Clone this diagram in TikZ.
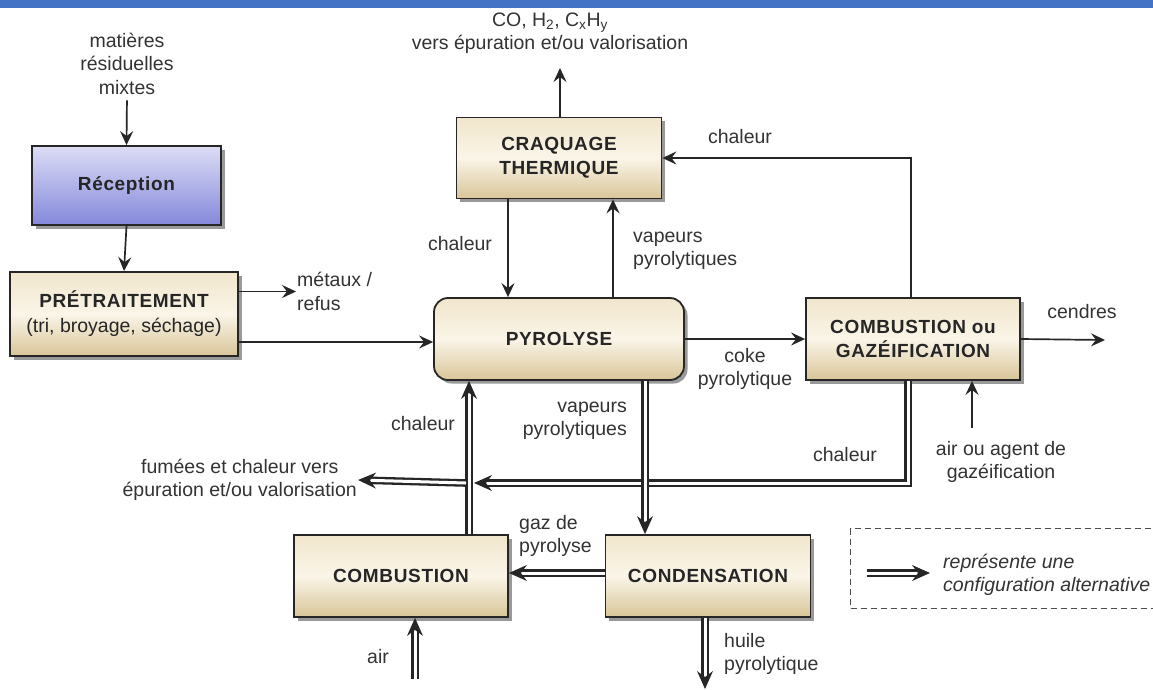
\documentclass[tikz,border=0pt]{standalone}
\usepackage{fontspec}
\setmainfont{Liberation Sans}
\newfontfamily\boxfont{Liberation Sans}[LetterSpace=3.5]
\usetikzlibrary{arrows.meta,shadows,decorations.markings}

\definecolor{barblue}{HTML}{4472C4}
\definecolor{creamtop}{HTML}{F1E6CC}
\definecolor{creammid}{HTML}{FAF5E8}
\definecolor{creambot}{HTML}{D9C598}
\definecolor{lavtop}{HTML}{DCDCF5}
\definecolor{lavbot}{HTML}{8488DA}
\definecolor{ink}{HTML}{262626}
\definecolor{txt}{HTML}{333333}

\begin{document}
\begin{tikzpicture}[x=1pt,y=-1pt,
  boxbase/.style={draw=ink, line width=1.8pt, inner sep=0pt, align=center,
    text=ink, font=\boxfont\bfseries\fontsize{19}{24}\selectfont,
    drop shadow={shadow xshift=3.5pt, shadow yshift=-3.5pt, fill=black, opacity=.4}},
  cream/.style={boxbase, top color=creamtop, bottom color=creambot, middle color=creammid},
  lavender/.style={boxbase, top color=lavtop, bottom color=lavbot},
  lbl/.style={font=\fontsize{19.5}{23.5}\selectfont, text=txt, align=center, inner sep=1pt},
  flow/.style={draw=ink, line width=1.7pt, -{Stealth[length=14pt,width=13pt,inset=5pt]}},
  dblplain/.style={draw=ink, line width=2.3pt, double=white, double distance=3pt},
  dbl/.style={dblplain, shorten >=11pt,
    postaction={decorate, decoration={markings,
      mark=at position 1 with {\path[fill=ink, draw=none] (0pt,0pt) -- (-18pt,8pt) -- (-12pt,0pt)
        -- (-18pt,-8pt) -- cycle;}}}},
]
% page and title bar
\useasboundingbox (0,0) rectangle (1153,689);
\clip (0,0) rectangle (1153,689);
\fill[white] (0,0) rectangle (1153,689);
\fill[barblue] (0,0) rectangle (1153,8);

% process boxes
\node[lavender, minimum width=189, minimum height=79] (rec) at (126.5,185.5) {Réception};
\node[cream, minimum width=228, minimum height=84] (pre) at (124,314)
  {PRÉTRAITEMENT\\[1pt]{\normalfont\fontsize{19.5}{23.5}\selectfont (tri, broyage, séchage)}};
\node[cream, rounded corners=14pt, minimum width=250, minimum height=82] (pyro) at (559,339) {PYROLYSE};
\node[cream, minimum width=205, minimum height=81] (craq) at (559,158) {CRAQUAGE\\THERMIQUE};
\node[cream, minimum width=214, minimum height=82] (cg) at (913,339) {COMBUSTION ou\\GAZÉIFICATION};
\node[cream, minimum width=214, minimum height=82] (comb) at (401,576) {COMBUSTION};
\node[cream, minimum width=205, minimum height=82] (cond) at (708,576) {CONDENSATION};

% free labels
\node[lbl] (mat) at (127,63.5) {matières\\résiduelles\\mixtes};
\node[lbl] (co) at (550,33) {CO, H\textsubscript{2}, C\textsubscript{x}H\textsubscript{y}\\vers épuration et/ou valorisation};
\node[lbl, anchor=west, align=left] (met) at (296,291.5) {métaux /\\refus};
\node[lbl] (lch1) at (460,244) {chaleur};
\node[lbl, anchor=west, align=left] (lvap1) at (632,251) {vapeurs\\pyrolytiques};
\node[lbl] (lch2) at (740,137) {chaleur};
\node[lbl] (lcoke) at (745,369) {coke\\pyrolytique};
\node[lbl] (lcend) at (1082,312) {cendres};
\node[lbl] (agent) at (1001,462) {air ou agent de\\gazéification};
\node[lbl] (lch3) at (845,455) {chaleur};
\node[lbl, anchor=east] (fum) at (358,480) {fumées et chaleur vers\\épuration et/ou valorisation};
\node[lbl] (lch4) at (423,424) {chaleur};
\node[lbl, anchor=east, align=right] (lvap2) at (628,421) {vapeurs\\pyrolytiques};
\node[lbl, anchor=west, align=left] (lgaz) at (518,536) {gaz de\\pyrolyse};
\node[lbl, anchor=west, align=left] (lhuile) at (723,654) {huile\\pyrolytique};
\node[lbl] (lair) at (378,657) {air};

% legend
\node[draw=black!70, dashed, dash pattern=on 6pt off 4pt, line width=1.1pt,
  minimum width=330, minimum height=80, anchor=north west] (leg) at (850,528) {};
\node[lbl, anchor=west, align=left, font=\itshape\fontsize{19.5}{23.5}\selectfont] (legtxt) at (942,575)
  {représente une\\configuration alternative};

% reference coordinates for connector positions
\coordinate (xa) at (508,0);
\coordinate (xb) at (613,0);
\coordinate (xco) at (560,0);
\coordinate (cotip) at (560,68);
\coordinate (xc) at (911,0);
\coordinate (ypp) at (0,342);
\coordinate (cend) at (1105,340);
\coordinate (agtop) at (972,428);
\coordinate (xd) at (908,0);
\coordinate (jr) at (474,483);
\coordinate (jl) at (466,483);
\coordinate (xe) at (469,0);
\coordinate (xf) at (645,0);
\coordinate (ygz) at (0,573);
\coordinate (hend) at (705,689);
\coordinate (airst) at (415,679);
\coordinate (la) at (867,573);
\coordinate (lb) at (930,573);

% main flow
\draw[flow, shorten <=5pt] (mat.south) -- (rec.north);
\draw[flow] (rec.south) -- (pre.north);
\draw[flow] (pre.east |- met.west) -- (met.west);
\draw[flow] (pre.east |- ypp) -- (pyro.west |- ypp);
\draw[flow] (craq.north -| xco) -- (cotip);
\draw[flow] (craq.south -| xa) -- (pyro.north -| xa);
\draw[flow] (pyro.north -| xb) -- (craq.south -| xb);
\draw[flow, line width=1.4pt] (cg.north -| xc) |- (craq.east);
\draw[flow] (pyro.east) -- (cg.west);
\draw[flow] (cg.east) -- (cend);
\draw[flow] (agtop) -- (cg.south -| agtop);

% alternative configuration (double lines)
\draw[dbl] (comb.north -| xe) -- (pyro.south -| xe);
\draw[dbl] (cg.south -| xd) |- (jr);
\draw[dbl] (jl) -- (fum.east);
\draw[dbl] (pyro.south -| xf) -- (cond.north -| xf);
\draw[dbl] (cond.west |- ygz) -- (comb.east |- ygz);
\draw[dbl] (cond.south -| hend) -- (hend);
\draw[dbl] (airst) -- (comb.south -| airst);
\draw[dbl] (la) -- (lb);
\end{tikzpicture}
\end{document}
